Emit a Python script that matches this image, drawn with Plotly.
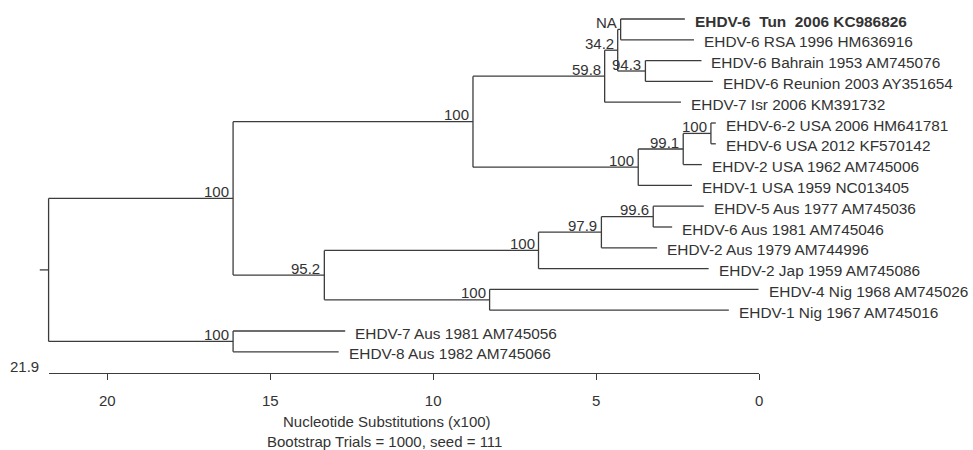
import plotly.graph_objects as go

# ---------------- data ----------------
leaf_names = [
    "EHDV-6\u00a0 Tun\u00a0 2006 KC986826",
    "EHDV-6 RSA 1996 HM636916",
    "EHDV-6 Bahrain 1953 AM745076",
    "EHDV-6 Reunion 2003 AY351654",
    "EHDV-7 Isr 2006 KM391732",
    "EHDV-6-2 USA 2006 HM641781",
    "EHDV-6 USA 2012 KF570142",
    "EHDV-2 USA 1962 AM745006",
    "EHDV-1 USA 1959 NC013405",
    "EHDV-5 Aus 1977 AM745036",
    "EHDV-6 Aus 1981 AM745046",
    "EHDV-2 Aus 1979 AM744996",
    "EHDV-2 Jap 1959 AM745086",
    "EHDV-4 Nig 1968 AM745026",
    "EHDV-1 Nig 1967 AM745016",
    "EHDV-7 Aus 1981 AM745056",
    "EHDV-8 Aus 1982 AM745066",
]
leaf_bold = [True] + [False] * 16
leaf_height = [2.28, 2.00, 1.77, 1.42, 2.40, 1.33, 1.33, 1.76, 2.06,
               1.70, 2.67, 3.13, 1.55, 0.02, 0.93, 12.70, 12.90]
leaf_parent = ["na", "na", "b943", "b943", "f598", "u100", "u100", "u991", "h100",
               "a996", "a996", "a979", "i100", "nig", "nig", "aus", "aus"]

node_names = ["root", "a100", "c100", "f598", "g342", "na", "b943", "h100", "u991",
              "u100", "d952", "i100", "a979", "a996", "nig", "aus"]
node_parent = [None, "root", "a100", "c100", "f598", "g342", "g342", "c100", "h100",
               "u991", "a100", "d952", "i100", "a979", "d952", "root"]
node_height = [21.80, 16.14, 8.78, 4.74, 4.34, 4.25, 3.49, 3.71, 2.33,
               1.48, 13.34, 6.77, 4.84, 3.25, 8.27, 16.14]
node_support = ["", "100", "100", "59.8", "34.2", "NA", "94.3", "100", "99.1",
                "100", "95.2", "100", "97.9", "99.6", "100", "100"]
root_edge = 0.27
tree_height_label = "21.9"
axis_ticks = [20, 15, 10, 5, 0]
axis_title = "Nucleotide Substitutions (x100)"
sub_title = "Bootstrap Trials = 1000, seed = 111"

# ---------------- layout helpers ----------------
LINE = "#3c3c3c"
TXT = "#333333"
FONT = "'Liberation Sans', Arial, sans-serif"
FS = 15
FS_LEAF = 15.4

children = {n: [] for n in node_names}
ypos = {}
xpos = {}
for i, p in enumerate(leaf_parent):
    key = ("leaf", i)
    children[p].append(key)
    ypos[key] = i + 1
    xpos[key] = leaf_height[i]
for n, p, h in zip(node_names, node_parent, node_height):
    xpos[("node", n)] = h
    if p is not None:
        children[p].append(("node", n))


def y_of(key):
    if key in ypos:
        return ypos[key]
    ys = [y_of(c) for c in children[key[1]]]
    ypos[key] = (min(ys) + max(ys)) / 2
    return ypos[key]


for n in node_names:
    y_of(("node", n))

parent_of = {("leaf", i): ("node", p) for i, p in enumerate(leaf_parent)}
for n, p in zip(node_names, node_parent):
    if p is not None:
        parent_of[("node", n)] = ("node", p)

xs, ys = [], []
for key, pkey in parent_of.items():          # horizontal branches
    xs += [xpos[pkey], xpos[key], None]
    ys += [ypos[key], ypos[key], None]
for n in node_names:                          # vertical connectors
    cy = [ypos[c] for c in children[n]]
    xs += [xpos[("node", n)], xpos[("node", n)], None]
    ys += [min(cy), max(cy), None]
rk = ("node", "root")                         # root edge
xs += [xpos[rk] + root_edge, xpos[rk], None]
ys += [ypos[rk], ypos[rk], None]

fig = go.Figure()
fig.add_trace(go.Scatter(x=xs, y=ys, mode="lines", line=dict(color=LINE, width=1.3),
                         hoverinfo="skip", showlegend=False))
fig.add_trace(go.Scatter(x=[xpos[rk], 0], y=[ypos[rk], ypos[rk]], xaxis="x2", yaxis="y",
                         mode="markers", marker=dict(opacity=0), hoverinfo="skip",
                         showlegend=False))

ann = []
for i, name in enumerate(leaf_names):
    ann.append(dict(x=leaf_height[i], y=i + 1, xref="x", yref="y",
                    text=f"<b>{name}</b>" if leaf_bold[i] else name,
                    showarrow=False, xanchor="left", yanchor="middle",
                    xshift=8, yshift=-2, font=dict(size=FS_LEAF, color=TXT, family=FONT)))
for n, s in zip(node_names, node_support):
    if s:
        ann.append(dict(x=xpos[("node", n)], y=ypos[("node", n)], xref="x", yref="y",
                        text=s, showarrow=False, xanchor="right", yanchor="middle",
                        xshift=-2, yshift=7, font=dict(size=FS, color=TXT, family=FONT)))
ann.append(dict(x=xpos[rk], y=1 - 366 / 450, xref="x", yref="paper", text=tree_height_label,
                showarrow=False, xanchor="right", yanchor="middle", xshift=-8,
                font=dict(size=FS, color=TXT, family=FONT)))
ann.append(dict(x=389 / 973, y=1 - 421 / 450, xref="paper", yref="paper", text=axis_title,
                showarrow=False, xanchor="center", yanchor="middle",
                font=dict(size=FS, color=TXT, family=FONT)))
ann.append(dict(x=386 / 973, y=1 - 441 / 450, xref="paper", yref="paper", text=sub_title,
                showarrow=False, xanchor="center", yanchor="middle",
                font=dict(size=FS, color=TXT, family=FONT)))

px_per_unit = 32.73
x0_px = 762.3
fig.update_layout(
    width=973, height=450,
    margin=dict(l=0, r=0, t=0, b=0),
    paper_bgcolor="white", plot_bgcolor="rgba(0,0,0,0)",
    showlegend=False,
    xaxis=dict(range=[x0_px / px_per_unit, (x0_px - 973) / px_per_unit],
               visible=False, domain=[0, 1]),
    xaxis2=dict(range=[xpos[rk], 0],
                domain=[(x0_px - xpos[rk] * px_per_unit) / 973, x0_px / 973],
                anchor="free", position=1 - 373.3 / 450,
                tickvals=axis_ticks, ticktext=[str(t) for t in axis_ticks],
                ticks="outside", ticklen=6, tickwidth=1.3, tickcolor=LINE,
                showline=True, linecolor=LINE, linewidth=1.3,
                showgrid=False, zeroline=False, ticklabelstandoff=8,
                tickfont=dict(size=FS, color=TXT, family=FONT)),
    yaxis=dict(range=[1 + 431 / 20.8, 1 - 19 / 20.8], visible=False, domain=[0, 1]),
    annotations=ann,
)
fig.write_html("out.html", config={"displayModeBar": False},
               post_script="document.body.style.margin='0';")
